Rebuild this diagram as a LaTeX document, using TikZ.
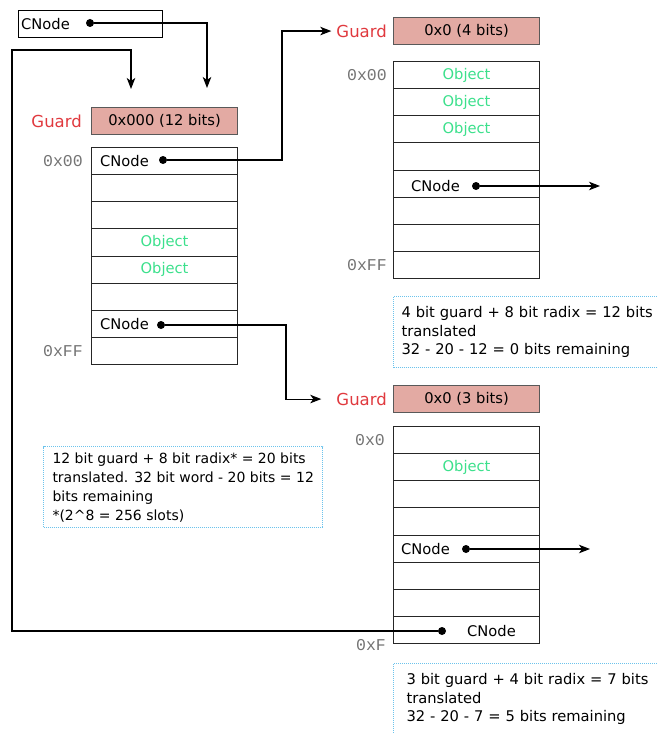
\documentclass[tikz,border=0pt]{standalone}
\usepackage{fontspec}
\setmainfont{DejaVu Sans}
\setmonofont{Liberation Mono}
\usepackage{tikz}
\usetikzlibrary{arrows.meta}
\usetikzlibrary{positioning}
\definecolor{guardred}{HTML}{E0393E}
\definecolor{guardfill}{HTML}{E3AAA3}
\definecolor{objgreen}{HTML}{3CE08C}
\definecolor{noteblue}{HTML}{6CC3EC}

\begin{document}
\begin{tikzpicture}[x=1pt, y=-1pt, font=\fontsize{14.7}{18.6}\selectfont,
  slot/.style={rectangle, draw=black!85, line width=1.1pt, minimum width=146pt, minimum height=27.125pt, anchor=north west, inner sep=0pt},
  guard/.style={rectangle, draw=black!65, fill=guardfill, line width=1.1pt, minimum width=146pt, minimum height=27pt, anchor=north west, inner sep=0pt},
  guardlbl/.style={text=guardred, inner sep=0pt, font=\fontsize{16.5}{20}\selectfont},
  addr/.style={font=\ttfamily\fontsize{16.5}{18}\selectfont, text=black!55, inner sep=0pt},
  obj/.style={text=objgreen, inner sep=0pt},
  txt/.style={inner sep=0pt, anchor=west},
  dot/.style={circle, fill, minimum size=8pt, inner sep=0pt},
  note/.style={draw=noteblue, densely dotted, line width=1pt, anchor=north west, align=left},
  line/.style={line width=1.1pt},
  arrow/.style={line width=1.1pt, ->, >={Stealth[length=11pt, width=8.5pt, inset=3pt]}}]
\useasboundingbox (0,0) rectangle (657,733);

% entry pointer
\node [draw, line width=1pt, minimum width=144pt, minimum height=27pt, anchor=north west, inner sep=0pt] (top) at (18,10) {};
\node [txt, right=3pt of top.west] {CNode};
\node [dot] (topdot) at (90,23) {};
\coordinate (intop) at (207,88);
\coordinate (inloop) at (131,89);

% main table
\node [guard] (gA) at (91,107) {0x000 (12 bits)};
\node [guardlbl, left=9pt of gA] {Guard};
\foreach \i in {0,...,7}
  \node [slot] (m\i) at (91,{147+27.125*\i}) {};
\node [addr, left=8pt of m0] {0x00};
\node [addr, left=8pt of m7] {0xFF};
\node [txt, right=9pt of m0.west] {CNode};
\node [txt, right=9pt of m6.west] {CNode};
\node [obj] at (m3) {Object};
\node [obj] at (m4) {Object};
\node [dot] (mdotA) at (163,160) {};
\node [dot] (mdotB) at (161,325) {};

% second table
\node [guard] (gB) at (393,17) {0x0 (4 bits)};
\node [guardlbl, left=6pt of gB] (lB) {Guard};
\foreach \i in {0,...,7}
  \node [slot] (q\i) at (393,{61+27.125*\i}) {};
\node [addr, left=6pt of q0] {0x00};
\node [addr, left=6pt of q7] {0xFF};
\foreach \i in {0,1,2}
  \node [obj] at (q\i) {Object};
\node [txt, right=18pt of q4.west, yshift=-2pt] {CNode};
\node [dot] (qdot) at (476,186) {};
\coordinate (qout) at (600,186);

% third table
\node [guard] (gC) at (393,385) {0x0 (3 bits)};
\node [guardlbl, left=6pt of gC] (lC) {Guard};
\foreach \i in {0,...,7}
  \node [slot] (p\i) at (393,{426+27.125*\i}) {};
\node [addr, left=8pt of p0] {0x0};
\node [addr, anchor=east] at (386,645) {0xF};
\node [obj] at (p1) {Object};
\node [txt, right=8pt of p4.west] {CNode};
\node [dot] (pdotA) at (466,549) {};
\coordinate (pout) at (590,549);
\node [txt] at (467,631) {CNode};
\node [dot] (pdotB) at (442,631) {};

% notes
\node [note, inner xsep=8pt, inner ysep=10pt, text width=262pt] (nA) at (393,296) {4 bit guard + 8 bit radix = 12 bits\\translated\\32 - 20 - 12 = 0 bits remaining};
\node [note, inner xsep=9pt, inner ysep=6pt, font=\fontsize{14}{19}\selectfont] (nB) at (43,446) {12 bit guard + 8 bit radix* = 20 bits\\translated. 32 bit word - 20 bits = 12\\bits remaining\\{}*(2\textasciicircum 8 = 256 slots)};
\node [note, inner xsep=13pt, inner ysep=10pt, text width=262pt] (nC) at (393,663) {3 bit guard + 4 bit radix = 7 bits\\translated\\32 - 20 - 7 = 5 bits remaining};

% pointers
\draw [arrow] (topdot) -| (intop);
\draw [arrow] (pdotB) -| (12,50) -| (inloop);
\draw [arrow] (mdotA) -- (282,160) |- ([xshift=-5pt]lB.west);
\draw [arrow] (mdotB) -- (286,325) |- ([xshift=-15pt]lC.west);
\draw [arrow] (qdot) -- (qout);
\draw [arrow] (pdotA) -- (pout);
\end{tikzpicture}
\end{document}
